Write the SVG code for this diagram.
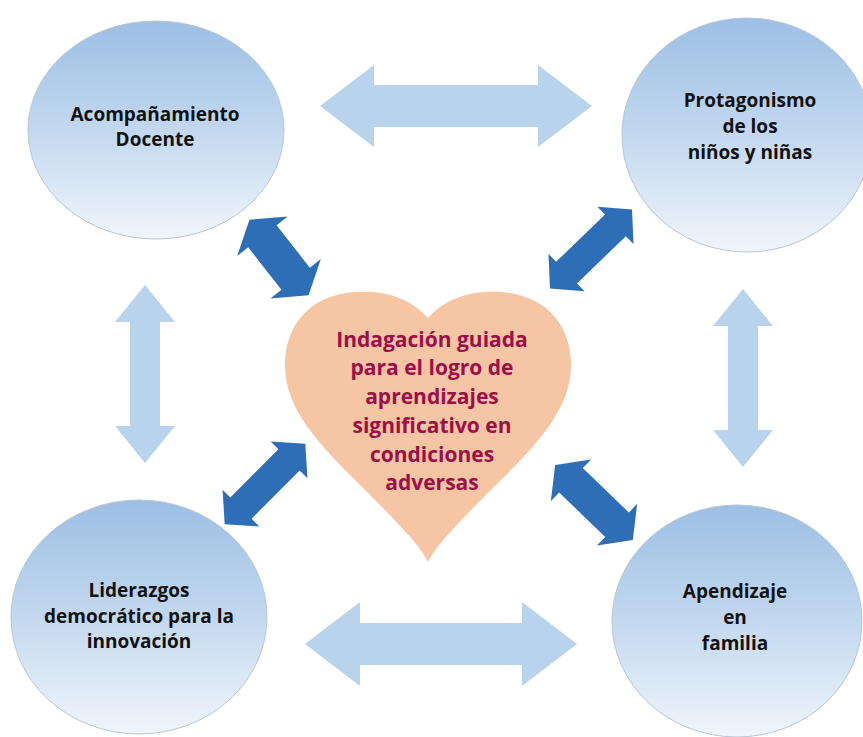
<svg xmlns="http://www.w3.org/2000/svg" width="863" height="737" viewBox="0 0 863 737">
  <defs>
    <linearGradient id="circ" x1="0" y1="0" x2="0" y2="1">
      <stop offset="0" stop-color="#9cbfe4"/>
      <stop offset="0.5" stop-color="#c3d8ef"/>
      <stop offset="1" stop-color="#f0f5fb"/>
    </linearGradient>
    <style>
      .node { fill: url(#circ); stroke: #b9c6d4; stroke-width: 1; }
      .nt { font-family: "Open Sans", "Liberation Sans", sans-serif; font-weight: 700; font-size: 19px; fill: #111111; text-anchor: middle; }
      .ht { font-family: "Open Sans", "Liberation Sans", sans-serif; font-weight: 700; font-size: 21px; fill: #9e0f48; text-anchor: middle; }
      .light { fill: #b9d3ec; }
      .dark { fill: #2e6eb7; }
    </style>
  </defs>
  <rect width="863" height="737" fill="#ffffff"/>

  <g id="connectors">
    <!-- light horizontal top -->
    <polygon class="light" transform="translate(456,106)" points="-136,0 -82,-41 -82,-21 82,-21 82,-41 136,0 82,41 82,21 -82,21 -82,41"/>
    <!-- light horizontal bottom -->
    <polygon class="light" transform="translate(441,644)" points="-136,0 -81,-42 -81,-21 81,-21 81,-42 136,0 81,42 81,21 -81,21 -81,42"/>
    <!-- light vertical left -->
    <polygon class="light" transform="translate(145,374) rotate(90)" points="-89,0 -52,-30 -52,-15 52,-15 52,-30 89,0 52,30 52,15 -52,15 -52,30"/>
    <!-- light vertical right -->
    <polygon class="light" transform="translate(743,378) rotate(90)" points="-89,0 -52,-30 -52,-15 52,-15 52,-30 89,0 52,30 52,15 -52,15 -52,30"/>
    <!-- dark diagonal top-left -->
    <polygon class="dark" transform="translate(279,257.5) rotate(52)" points="-48,0 -27,-32 -27,-18 27,-18 27,-32 48,0 27,32 27,18 -27,18 -27,32"/>
    <!-- dark diagonal top-right -->
    <polygon class="dark" transform="translate(591,249) rotate(-44)" points="-57,0 -34,-26 -34,-15 34,-15 34,-26 57,0 34,26 34,15 -34,15 -34,26"/>
    <!-- dark diagonal bottom-left -->
    <polygon class="dark" transform="translate(265,484) rotate(-45)" points="-57,0 -34,-26 -34,-15 34,-15 34,-26 57,0 34,26 34,15 -34,15 -34,26"/>
    <!-- dark diagonal bottom-right -->
    <polygon class="dark" transform="translate(594,502.5) rotate(44)" points="-54,0 -32,-29 -32,-17 32,-17 32,-29 54,0 32,29 32,17 -32,17 -32,29"/>
  </g>

  <g id="node-acompanamiento">
    <ellipse class="node" cx="156" cy="130" rx="128" ry="109"/>
    <text class="nt" x="155" y="121">Acompañamiento</text>
    <text class="nt" x="155" y="146">Docente</text>
  </g>

  <g id="node-protagonismo">
    <ellipse class="node" cx="747" cy="135" rx="125" ry="117"/>
    <text class="nt" x="750" y="107">Protagonismo</text>
    <text class="nt" x="750" y="133">de los</text>
    <text class="nt" x="750" y="159">niños y niñas</text>
  </g>

  <g id="node-liderazgos">
    <ellipse class="node" cx="139" cy="617" rx="128" ry="117"/>
    <text class="nt" x="139" y="597">Liderazgos</text>
    <text class="nt" x="139" y="623">democrático para la</text>
    <text class="nt" x="139" y="648">innovación</text>
  </g>

  <g id="node-familia">
    <ellipse class="node" cx="737" cy="621" rx="125" ry="116"/>
    <text class="nt" x="735" y="598">Apendizaje</text>
    <text class="nt" x="735" y="624">en</text>
    <text class="nt" x="735" y="650">familia</text>
  </g>

  <g id="node-indagacion">
    <path fill="#f5c5a4" d="M428,318 C410,298 385,290 355,292 C310,295 285,325 285,365 C285,410 320,445 360,485 C395,520 420,545 428,562 C436,545 461,520 496,485 C536,445 571,410 571,365 C571,325 546,295 501,292 C471,290 446,298 428,318 Z"/>
    <text class="ht" x="432" y="347">Indagación guiada</text>
    <text class="ht" x="432" y="375">para el logro de</text>
    <text class="ht" x="432" y="404">aprendizajes</text>
    <text class="ht" x="432" y="433">significativo en</text>
    <text class="ht" x="432" y="462">condiciones</text>
    <text class="ht" x="432" y="490">adversas</text>
  </g>
</svg>
